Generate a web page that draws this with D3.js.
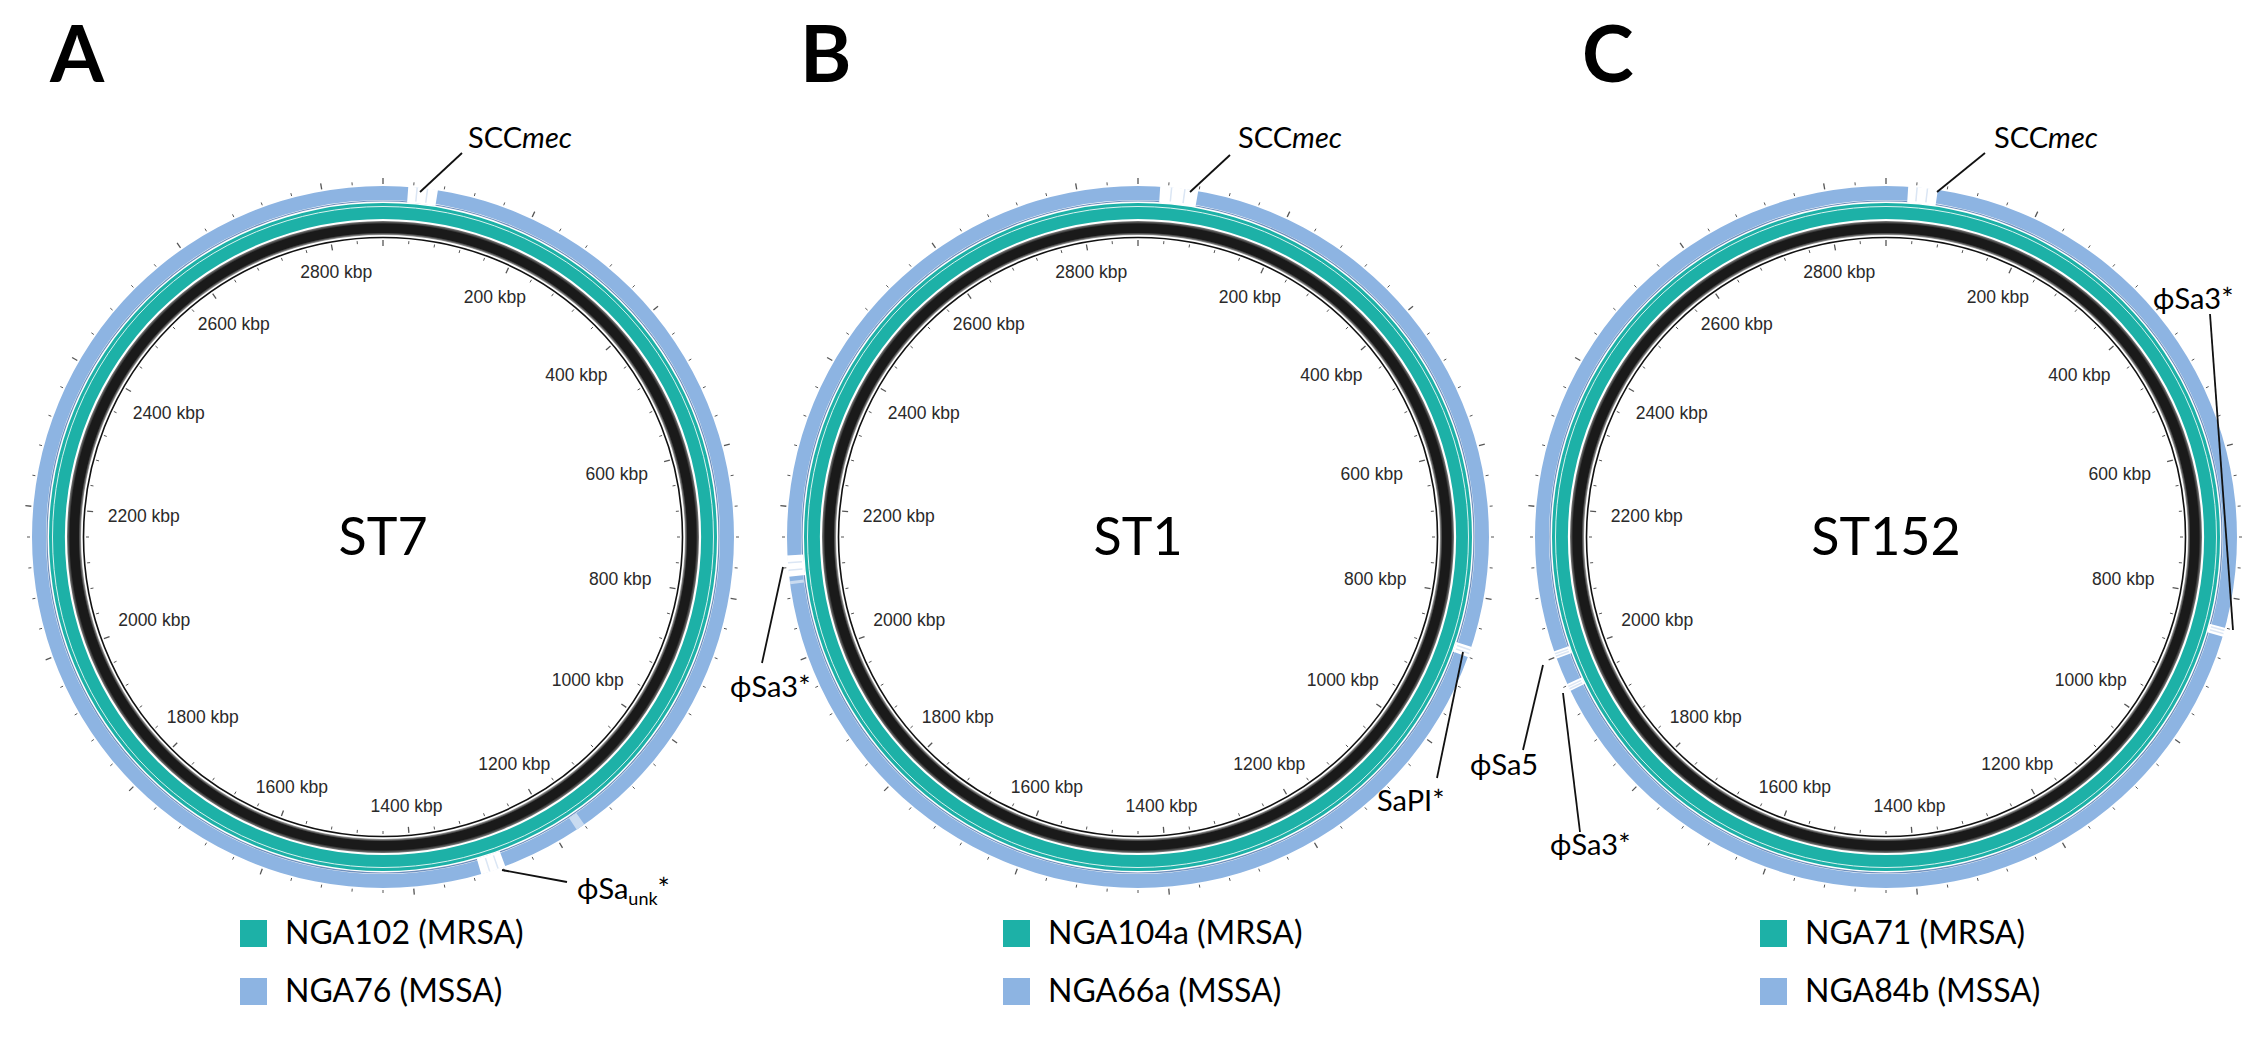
<!DOCTYPE html>
<html>
<head>
<meta charset="utf-8">
<script src="https://cdn.jsdelivr.net/npm/d3@7"></script>
<style>
  html, body { margin: 0; padding: 0; background: #fff; }
  svg { display: block; }
</style>
</head>
<body>
<svg id="chart" width="2250" height="1049"></svg>
<script>
// ---------------- DATA ----------------
const genomeLengthKb = 2880;
const panelLetters = ["A", "B", "C"];
const stLabels = ["ST7", "ST1", "ST152"];
const mrsaNames = ["NGA102 (MRSA)", "NGA104a (MRSA)", "NGA71 (MRSA)"];
const mssaNames = ["NGA76 (MSSA)", "NGA66a (MSSA)", "NGA84b (MSSA)"];
const tickLabelKb = [200, 400, 600, 800, 1000, 1200, 1400, 1600, 1800, 2000, 2200, 2400, 2600, 2800];

// Regions absent from the MSSA (outer, blue) ring: [startKb, endKb]
const mssaGapsA = [[33, 72], [1277, 1310]];
const mssaGapsB = [[29, 79], [2108, 2136], [866, 880]];
const mssaGapsC = [[29, 68], [840, 852], [1998, 2008], [1952, 1962]];
// faint (partial-identity) regions in the blue ring
const mssaFaintA = [[1160, 1172]];
const mssaFaintB = [[2098, 2102]];
const mssaFaintC = [];

// Annotated mobile elements: name and genome position (kb)
const annotNamesA = ["SCCmec", "ϕSaunk*"];
const annotKbA = [70, 1282];
const annotNamesB = ["SCCmec", "ϕSa3*", "SaPI*"];
const annotKbB = [76, 2120, 872];
const annotNamesC = ["SCCmec", "ϕSa3*", "ϕSa5", "ϕSa3*"];
const annotKbC = [66, 846, 2003, 1957];

// ---------------- LAYOUT ----------------
const centersX = [383, 1138, 1886];
const centerY = 537;
const letterX = [50, 800, 1582];
const legendX = [240, 1003, 1760];
const R = {
  outerTick: 352, blueOut: 351, blueIn: 337, blueLine: 336,
  tealOut: 334, tealIn: 318, tealLine: 330.5,
  blackOut: 316, blackIn: 302, backbone: 299.5, innerTick: 298
};
// label placement (dx, dy from panel centre): text origin, leader start/end
const annotLayout = [
  [ {tx: 85, ty: -389, lx: 79, ly: -384, sx: 37, sy: -345, style: "mec"},
    {tx: 194, ty: 362, lx: 184, ly: 345, sx: 119, sy: 333, style: "unk"} ],
  [ {tx: 100, ty: -389, lx: 92, ly: -382, sx: 52, sy: -345, style: "mec"},
    {tx: -408, ty: 160, lx: -376, ly: 126, sx: -355, sy: 30, style: ""},
    {tx: 239, ty: 274, lx: 299, ly: 241, sx: 325, sy: 115, style: ""} ],
  [ {tx: 108, ty: -389, lx: 99, ly: -384, sx: 51, sy: -345, style: "mec"},
    {tx: 267, ty: -228, lx: 324, ly: -223, sx: 347, sy: 93, style: ""},
    {tx: -416, ty: 238, lx: -363, ly: 213, sx: -343, sy: 128, style: ""},
    {tx: -336, ty: 318, lx: -306, ly: 295, sx: -323, sy: 156, style: ""} ]
];

const svg = d3.select("#chart");
const angle = d3.scaleLinear().domain([0, genomeLengthKb]).range([0, 2 * Math.PI]);
const arc = d3.arc();

const defs = svg.append("defs");
const gapsAll = [mssaGapsA, mssaGapsB, mssaGapsC];
const faintAll = [mssaFaintA, mssaFaintB, mssaFaintC];
const annotNamesAll = [annotNamesA, annotNamesB, annotNamesC];

const TEAL = "#1db1a7";
const BLUE = "#8db4e2";
const labelFont = "Lato, 'Open Sans', 'DejaVu Sans', sans-serif";

function polar(r, kb) {
  const a = angle(kb);
  return [r * Math.sin(a), -r * Math.cos(a)];
}
const full = (r0, r1) => arc({innerRadius: r0, outerRadius: r1, startAngle: 0, endAngle: 2 * Math.PI});

// shared gradient for the black backbone band (in panel-local coordinates)
const grad = defs.append("radialGradient").attr("id", "blackGrad")
  .attr("gradientUnits", "userSpaceOnUse")
  .attr("cx", 0).attr("cy", 0).attr("r", R.blackOut).attr("fx", 0).attr("fy", 0);
[[R.blackIn / R.blackOut, "#a0a0a0"], [(R.blackIn + 2.5) / R.blackOut, "#1a1a1a"],
 [(R.blackOut - 3) / R.blackOut, "#1a1a1a"], [1, "#808080"]].forEach(s =>
  grad.append("stop").attr("offset", s[0]).attr("stop-color", s[1]));

panelLetters.forEach((letter, i) => {
  const g = svg.append("g").attr("transform", `translate(${centersX[i]},${centerY})`);

  // black band
  g.append("path").attr("d", full(R.blackIn, R.blackOut)).attr("fill", "url(#blackGrad)");
  // backbone thin circle
  g.append("circle").attr("r", R.backbone).attr("fill", "none").attr("stroke", "#111").attr("stroke-width", 1.6);

  // teal ring (MRSA)
  g.append("path").attr("d", full(R.tealIn, R.tealOut)).attr("fill", TEAL);
  g.append("circle").attr("r", R.tealLine).attr("fill", "none").attr("stroke", "#d8f2ef").attr("stroke-width", 1);

  // blue ring (MSSA)
  g.append("path").attr("d", full(R.blueIn, R.blueOut)).attr("fill", BLUE);
  g.append("circle").attr("r", R.blueLine).attr("fill", "none").attr("stroke", "#6f8fbd").attr("stroke-width", 1.2);

  // gaps in blue ring
  gapsAll[i].forEach(gp => {
    g.append("path")
      .attr("d", arc({innerRadius: R.blueLine - 1, outerRadius: R.blueOut + 0.5,
                      startAngle: angle(gp[0]), endAngle: angle(gp[1])}))
      .attr("fill", "#ffffff");
    [0.3, 0.65].forEach(f => {
      const kb = gp[0] + f * (gp[1] - gp[0]);
      const p0 = polar(R.blueIn, kb), p1 = polar(R.blueOut, kb);
      g.append("line").attr("x1", p0[0]).attr("y1", p0[1]).attr("x2", p1[0]).attr("y2", p1[1])
        .attr("stroke", "#dbe6f4").attr("stroke-width", 1.5);
    });
  });
  faintAll[i].forEach(gp => {
    g.append("path")
      .attr("d", arc({innerRadius: R.blueIn, outerRadius: R.blueOut,
                      startAngle: angle(gp[0]), endAngle: angle(gp[1])}))
      .attr("fill", "#c9dbf0");
  });

  // outer and inner ticks
  const tickKb = d3.range(0, genomeLengthKb, 40);
  tickKb.forEach(kb => {
    const major = kb % 200 === 0;
    let p0 = polar(R.outerTick + 1, kb), p1 = polar(R.outerTick + (major ? 7 : 4), kb);
    g.append("line").attr("x1", p0[0]).attr("y1", p0[1]).attr("x2", p1[0]).attr("y2", p1[1])
      .attr("stroke", "#555").attr("stroke-width", major ? 1.3 : 1);
    p0 = polar(R.innerTick - 1, kb); p1 = polar(R.innerTick - (major ? 7 : 4), kb);
    g.append("line").attr("x1", p0[0]).attr("y1", p0[1]).attr("x2", p1[0]).attr("y2", p1[1])
      .attr("stroke", "#555").attr("stroke-width", major ? 1.3 : 1);
  });

  // tick labels
  tickLabelKb.forEach(kb => {
    const a = angle(kb);
    const rc = 270 - 30 * Math.sin(a) * Math.sin(a);
    g.append("text")
      .attr("x", rc * Math.sin(a)).attr("y", -rc * Math.cos(a))
      .attr("text-anchor", "middle").attr("dominant-baseline", "central")
      .attr("font-family", "'Liberation Sans', Arial, sans-serif")
      .attr("font-size", 17.5).attr("fill", "#2a2a2a")
      .text(kb + " kbp");
  });

  // ST label
  g.append("text").attr("x", 0).attr("y", 18)
    .attr("text-anchor", "middle").attr("font-family", labelFont)
    .attr("font-size", 52).attr("fill", "#000").text(stLabels[i]);

  // annotations
  annotNamesAll[i].forEach((name, j) => {
    const L = annotLayout[i][j];
    g.append("line").attr("x1", L.sx).attr("y1", L.sy).attr("x2", L.lx).attr("y2", L.ly)
      .attr("stroke", "#111").attr("stroke-width", 1.8);
    const t = g.append("text").attr("x", L.tx).attr("y", L.ty)
      .attr("font-family", labelFont).attr("font-size", 29).attr("fill", "#000");
    if (L.style === "mec") {
      t.append("tspan").text(name.slice(0, 3));
      t.append("tspan").attr("font-style", "italic").text(name.slice(3));
    } else if (L.style === "unk") {
      t.append("tspan").text(name.slice(0, 3));
      t.append("tspan").attr("font-size", 18).attr("dy", 6).text(name.slice(3, 6));
      t.append("tspan").attr("dy", -6).text(name.slice(6));
    } else {
      t.text(name);
    }
  });

  // panel letter
  svg.append("text").attr("x", letterX[i]).attr("y", 82)
    .attr("font-family", labelFont).attr("font-weight", "bold")
    .attr("font-size", 78).attr("fill", "#000").text(letter);

  // legend
  const lg = svg.append("g").attr("transform", `translate(${legendX[i]},920)`);
  [[TEAL, mrsaNames[i]], [BLUE, mssaNames[i]]].forEach((d, k) => {
    lg.append("rect").attr("x", 0).attr("y", k * 58).attr("width", 27).attr("height", 27).attr("fill", d[0]);
    lg.append("text").attr("x", 45).attr("y", k * 58 + 24)
      .attr("font-family", labelFont).attr("font-size", 32).attr("fill", "#000").text(d[1]);
  });
});
</script>
</body>
</html>
